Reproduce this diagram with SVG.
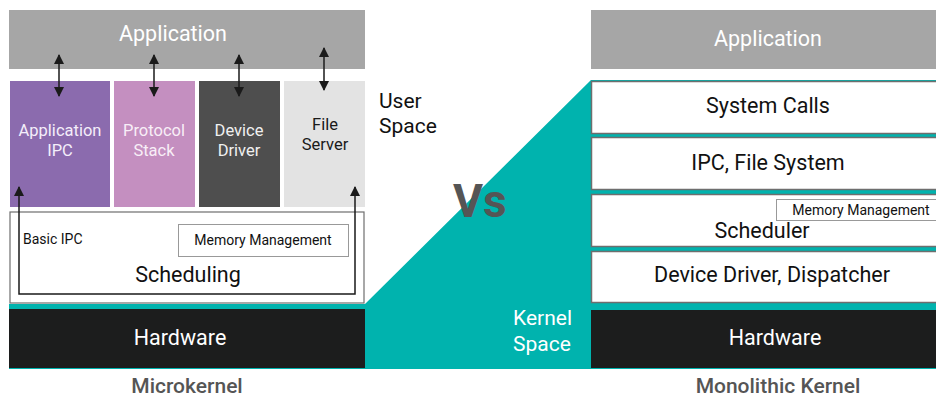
<svg xmlns="http://www.w3.org/2000/svg" width="936" height="398" viewBox="0 0 936 398">
  <style>
    text { font-family: Roboto, "Noto Sans", "Liberation Sans", sans-serif; }
    .appbar { fill: #a6a6a6; }
    .apptxt { fill: #ffffff; font-size: 21.5px; text-anchor: middle; }
    .svc { font-size: 16.5px; text-anchor: middle; }
    .layer { fill: #ffffff; stroke: #6e6e6e; stroke-width: 1.5; }
    .layertxt { fill: #111111; font-size: 21.5px; text-anchor: middle; }
    .memtxt { fill: #111111; font-size: 14px; text-anchor: middle; }
    .hw { fill: #1c1d1d; }
    .hwtxt { fill: #ffffff; font-size: 21.5px; text-anchor: middle; }
    .caption { fill: #555555; font-size: 21px; font-weight: 500; text-anchor: middle; }
    .space { font-size: 21px; }
    .conn { stroke: #1a1a1a; stroke-width: 1.5; fill: none; }
  </style>
  <defs>
    <marker id="head" viewBox="0 0 10 10" refX="9" refY="5" markerWidth="10" markerHeight="10" markerUnits="userSpaceOnUse" orient="auto-start-reverse">
      <path d="M0,0 L10,5 L0,10 z" fill="#1a1a1a"/>
    </marker>
  </defs>

  <!-- kernel-space backdrop -->
  <polygon id="kernel-space" points="9,304 365,304 591,80 936,80 936,369 9,369" fill="#00b3ae"/>

  <!-- ===== Microkernel (left) ===== -->
  <g id="mk-application">
    <rect class="appbar" x="9" y="10" width="356" height="59"/>
    <text class="apptxt" x="173" y="41">Application</text>
  </g>
  <g id="mk-app-ipc">
    <rect x="10" y="81" width="100" height="126" fill="#8b6bae"/>
    <text class="svc" fill="#f4eefa" x="60" y="136">Application</text>
    <text class="svc" fill="#f4eefa" x="60" y="156">IPC</text>
  </g>
  <g id="mk-protocol-stack">
    <rect x="114" y="81" width="81" height="126" fill="#c48fc0"/>
    <text class="svc" fill="#f8eef7" x="154" y="136">Protocol</text>
    <text class="svc" fill="#f8eef7" x="154" y="156">Stack</text>
  </g>
  <g id="mk-device-driver">
    <rect x="199" y="81" width="81" height="126" fill="#4e4e4e"/>
    <text class="svc" fill="#f0f0f0" x="239" y="136">Device</text>
    <text class="svc" fill="#f0f0f0" x="239" y="156">Driver</text>
  </g>
  <g id="mk-file-server">
    <rect x="284" y="81" width="81" height="126" fill="#e3e3e3"/>
    <text class="svc" fill="#1a1a1a" x="325" y="130">File</text>
    <text class="svc" fill="#1a1a1a" x="325" y="150">Server</text>
  </g>
  <g id="mk-kernel">
    <rect x="10" y="212" width="354" height="91" fill="#ffffff" stroke="#6e6e6e" stroke-width="1.2"/>
    <text x="23" y="244" font-size="14" fill="#111111">Basic IPC</text>
    <text class="layertxt" x="188" y="282">Scheduling</text>
  </g>
  <g id="mk-memory">
    <rect x="178.5" y="224.5" width="170" height="32" fill="#ffffff" stroke="#999999" stroke-width="1"/>
    <text class="memtxt" x="263" y="245">Memory Management</text>
  </g>
  <g id="mk-hardware">
    <rect class="hw" x="9" y="309" width="356" height="59"/>
    <text class="hwtxt" x="180" y="345">Hardware</text>
  </g>
  <text class="caption" x="187" y="393">Microkernel</text>

  <!-- connectors -->
  <g id="connectors">
    <line class="conn" x1="59" y1="55" x2="59" y2="96" marker-start="url(#head)" marker-end="url(#head)"/>
    <line class="conn" x1="154" y1="55" x2="154" y2="96" marker-start="url(#head)" marker-end="url(#head)"/>
    <line class="conn" x1="239" y1="55" x2="239" y2="96" marker-start="url(#head)" marker-end="url(#head)"/>
    <line class="conn" x1="324" y1="48" x2="324" y2="90" marker-start="url(#head)" marker-end="url(#head)"/>
    <polyline class="conn" points="19,187 19,294 355,294 355,187" marker-start="url(#head)" marker-end="url(#head)"/>
  </g>

  <!-- middle labels -->
  <text class="space" x="379" y="108" fill="#111111">User</text>
  <text class="space" x="379" y="133" fill="#111111">Space</text>
  <text x="453" y="217" font-size="46" font-weight="700" fill="#555555">Vs</text>
  <text class="space" x="513" y="325" fill="#ffffff">Kernel</text>
  <text class="space" x="513" y="351" fill="#ffffff">Space</text>

  <!-- ===== Monolithic kernel (right) ===== -->
  <g id="mono-application">
    <rect class="appbar" x="591" y="10" width="345" height="59"/>
    <text class="apptxt" x="768" y="46">Application</text>
  </g>
  <g id="mono-system-calls">
    <rect class="layer" x="591.5" y="81.5" width="350" height="52"/>
    <text class="layertxt" x="768" y="113">System Calls</text>
  </g>
  <g id="mono-ipc-fs">
    <rect class="layer" x="591.5" y="137.5" width="350" height="52"/>
    <text class="layertxt" x="768" y="170">IPC, File System</text>
  </g>
  <g id="mono-scheduler">
    <rect class="layer" x="591.5" y="194.5" width="350" height="52"/>
    <text class="layertxt" x="762" y="238">Scheduler</text>
  </g>
  <g id="mono-memory">
    <rect x="776.5" y="199.5" width="170" height="21" fill="#ffffff" stroke="#999999" stroke-width="1"/>
    <text class="memtxt" x="861" y="215">Memory Management</text>
  </g>
  <g id="mono-device-driver">
    <rect class="layer" x="591.5" y="251.5" width="350" height="51"/>
    <text class="layertxt" x="772" y="282">Device Driver, Dispatcher</text>
  </g>
  <g id="mono-hardware">
    <rect class="hw" x="591" y="310" width="345" height="58"/>
    <text class="hwtxt" x="775" y="345">Hardware</text>
  </g>
  <text class="caption" x="778" y="393">Monolithic Kernel</text>
</svg>
